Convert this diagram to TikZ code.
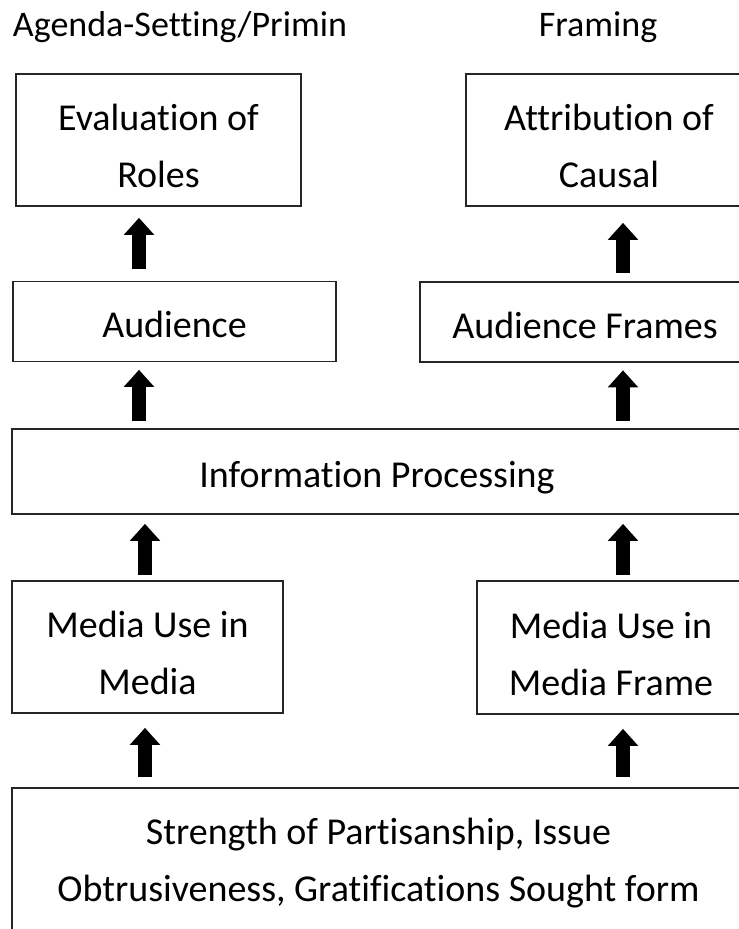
\documentclass[tikz,border=0pt]{standalone}
\usepackage{fontspec}
\setmainfont{Carlito}[Ligatures={NoCommon}]
\usetikzlibrary{arrows.meta}

\tikzset{
  box/.style={draw=black!85, line width=1.4pt, inner sep=0pt, align=center,
    font=\fontsize{28.5}{42.75}\selectfont,
    execute at end node={\rule[-0.25em]{0pt}{0pt}}},
  oneline/.style={box, execute at begin node={\rule{0pt}{1.1em}}},
  twoline/.style={box, execute at begin node={\rule{0pt}{2.76em}}},
  head/.style={inner sep=0pt, anchor=base, font=\fontsize{27}{32}\selectfont},
  uparrow/.style={-{Triangle[width=23pt,length=12.75pt,line width=0pt]}, line width=10.5pt, black}
}

\begin{document}
\begin{tikzpicture}[x=0.75pt,y=-0.75pt]
\useasboundingbox (0,0) rectangle (739,929);
% headings
\node[head] (agenda) at (180,36) {Agenda-Setting/Primin};
\node[head] (framing) at (598,36) {Framing};
% boxes
\node[twoline, minimum width=213.75pt, minimum height=99pt] (eval) at (158.5,140) {Evaluation of\\Roles};
\node[twoline, minimum width=214.5pt, minimum height=99pt] (attr) at (609,140) {Attribution of\\Causal};
\node[oneline, minimum width=242.25pt, minimum height=60pt] (aud) at (174.5,321.5) {Audience};
\node[oneline, minimum width=247.5pt, minimum height=60pt] (audfr) at (585,322) {Audience Frames};
\node[oneline, minimum width=547.5pt, minimum height=63.75pt] (info) at (377,471.5) {Information Processing};
\node[twoline, minimum width=203.25pt, minimum height=99pt] (mleft) at (147.5,647) {Media Use in\\Media};
\node[twoline, minimum width=201pt, minimum height=99.75pt] (mright) at (611,647.5) {Media Use in\\Media Frame};
\node[box, minimum width=549.75pt, minimum height=115.5pt] (base) at (378.5,865) {Strength of Partisanship, Issue\\Obtrusiveness, Gratifications Sought form};
% arrow columns
\coordinate (lup) at (139,0);
\coordinate (llow) at (145,0);
\coordinate (rcol) at (623,0);
% arrows
\draw[uparrow, shorten <=9pt, shorten >=8.25pt] (aud.north -| lup) -- (eval.south -| lup);
\draw[uparrow, shorten <=6pt, shorten >=12pt] (audfr.north -| rcol) -- (attr.south -| rcol);
\draw[uparrow, shorten <=5.25pt, shorten >=5.6pt] (info.north -| lup) -- (aud.south -| lup);
\draw[uparrow, shorten <=5.25pt, shorten >=5.6pt] (info.north -| rcol) -- (audfr.south -| rcol);
\draw[uparrow, shorten <=3.75pt, shorten >=6.75pt] (mleft.north -| llow) -- (info.south -| llow);
\draw[uparrow, shorten <=3.75pt, shorten >=6.75pt] (mright.north -| rcol) -- (info.south -| rcol);
\draw[uparrow, shorten <=7.5pt, shorten >=10.5pt] (base.north -| llow) -- (mleft.south -| llow);
\draw[uparrow, shorten <=7.5pt, shorten >=10.5pt] (base.north -| rcol) -- (mright.south -| rcol);
\end{tikzpicture}
\end{document}
